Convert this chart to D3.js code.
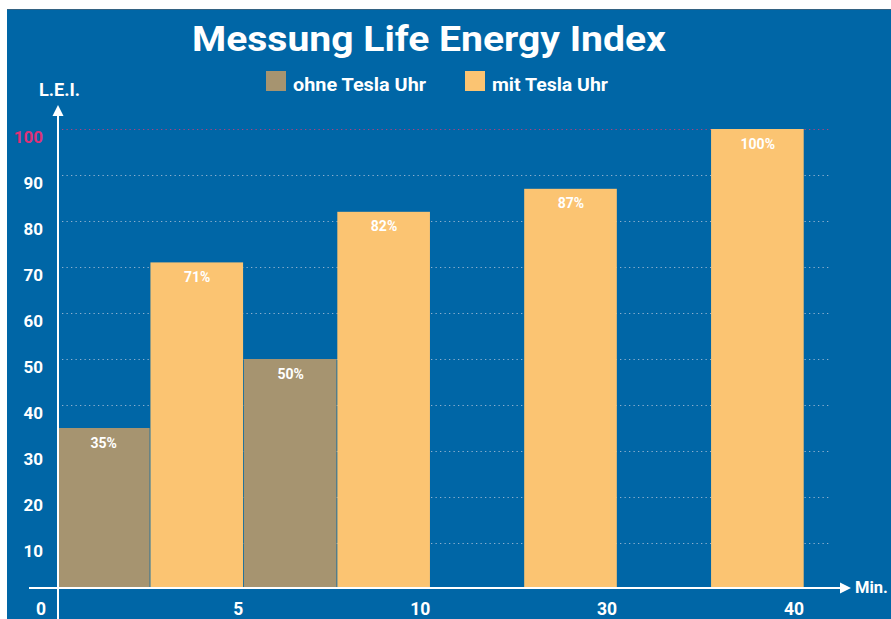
<!DOCTYPE html>
<html>
<head>
<meta charset="utf-8">
<script src="https://cdn.jsdelivr.net/npm/d3@7"></script>
<style>
  html, body { margin: 0; padding: 0; background: #ffffff; }
  svg { display: block; }
  text { font-family: Roboto, "DejaVu Sans", sans-serif; font-weight: 700; }
</style>
</head>
<body>
<svg id="chart" width="891" height="619"></svg>
<script>
// ---- data ----
const groups = ["5", "10", "30", "40"];
const seriesNames = ["ohne Tesla Uhr", "mit Tesla Uhr"];
const ohneValues = [35, 50, null, null];
const mitValues = [71, 82, 87, 100];
const yTicks = [10, 20, 30, 40, 50, 60, 70, 80, 90, 100];
const titleText = "Messung Life Energy Index";
const yAxisTitle = "L.E.I.";
const xAxisTitle = "Min.";
const originLabel = "0";

const colors = { bg: "#0066a6", ohne: "#a69470", mit: "#fbc472", pink: "#dd3278", grid: "#8db0cf" };

const svg = d3.select("#chart");

// background panel
svg.append("rect").attr("x", 7).attr("y", 9).attr("width", 884).attr("height", 610).attr("fill", colors.bg);
svg.append("line").attr("x1", 7).attr("x2", 891).attr("y1", 9.5).attr("y2", 9.5).attr("stroke", "#55606a").attr("stroke-width", 0.6);

// scales
const y = d3.scaleLinear().domain([0, 100]).range([589, 129]);
const x0 = d3.scaleBand().domain(groups).range([57, 804.5]).padding(0);
const x1 = d3.scaleBand().domain(["ohne", "mit"]).range([0, x0.bandwidth()]).padding(0);

// gridlines
svg.append("g").selectAll("line").data(yTicks).join("line")
  .attr("x1", 62).attr("x2", 829)
  .attr("y1", d => Math.round(y(d)) + 0.5).attr("y2", d => Math.round(y(d)) + 0.5)
  .attr("stroke", d => d === 100 ? "#b0427f" : colors.grid)
  .attr("stroke-width", 1.2)
  .attr("stroke-dasharray", "1.3,3.2");

// y tick labels
svg.append("g").selectAll("text").data(yTicks).join("text")
  .attr("x", 43).attr("y", d => y(d) + 13.5)
  .attr("text-anchor", "end")
  .attr("font-size", 17)
  .attr("fill", d => d === 100 ? colors.pink : "#ffffff")
  .text(d => d);

// bars
const rows = [];
groups.forEach((g, i) => {
  if (ohneValues[i] != null) rows.push({ g, s: "ohne", v: ohneValues[i] });
  if (mitValues[i] != null) rows.push({ g, s: "mit", v: mitValues[i] });
});

svg.append("g").selectAll("rect").data(rows).join("rect")
  .attr("x", d => x0(d.g) + x1(d.s))
  .attr("y", d => y(d.v))
  .attr("width", x1.bandwidth() - 0.8)
  .attr("height", d => y(0) - y(d.v))
  .attr("fill", d => colors[d.s]);

svg.append("g").selectAll("text").data(rows).join("text")
  .attr("x", d => x0(d.g) + x1(d.s) + x1.bandwidth() / 2)
  .attr("y", d => y(d.v) + 19.5)
  .attr("text-anchor", "middle")
  .attr("font-size", 14)
  .attr("fill", "#ffffff")
  .text(d => d.v + "%");

// axes
svg.append("line").attr("x1", 58).attr("x2", 58).attr("y1", 112).attr("y2", 619)
  .attr("stroke", "#ffffff").attr("stroke-width", 2);
svg.append("path").attr("d", "M58,105 L52.5,116 L63.5,116 Z").attr("fill", "#ffffff");

svg.append("line").attr("x1", 29).attr("x2", 842).attr("y1", 588).attr("y2", 588)
  .attr("stroke", "#ffffff").attr("stroke-width", 2);
svg.append("path").attr("d", "M851,588 L840,582.5 L840,593.5 Z").attr("fill", "#ffffff");

// x tick labels
svg.append("g").selectAll("text").data(groups).join("text")
  .attr("x", d => x0(d) + x0.bandwidth() - 0.5)
  .attr("y", 615)
  .attr("text-anchor", "end")
  .attr("font-size", 17.5)
  .attr("fill", "#ffffff")
  .text(d => d);
svg.append("text").attr("x", 46).attr("y", 615).attr("text-anchor", "end")
  .attr("font-size", 17.5).attr("fill", "#ffffff").text(originLabel);

// axis titles
svg.append("text").attr("x", 39).attr("y", 96).attr("font-size", 17.5).attr("fill", "#ffffff")
  .attr("textLength", 41).attr("lengthAdjust", "spacingAndGlyphs").text(yAxisTitle);
svg.append("text").attr("x", 855).attr("y", 593).attr("font-size", 16.5).attr("fill", "#ffffff").text(xAxisTitle);

// title
svg.append("text").attr("x", 429).attr("y", 51).attr("text-anchor", "middle")
  .attr("font-size", 35).attr("fill", "#ffffff")
  .attr("textLength", 474).attr("lengthAdjust", "spacingAndGlyphs").text(titleText);

// legend
const legendX = [266, 465];
const legendTextW = [133, 116];
const legendKeys = ["ohne", "mit"];
const lg = svg.append("g").selectAll("g").data(seriesNames).join("g");
lg.append("rect").attr("x", (d, i) => legendX[i]).attr("y", 71).attr("width", 20).attr("height", 20)
  .attr("fill", (d, i) => colors[legendKeys[i]]);
lg.append("text").attr("x", (d, i) => legendX[i] + 27).attr("y", 90.5)
  .attr("font-size", 17.5).attr("fill", "#ffffff")
  .attr("textLength", (d, i) => legendTextW[i]).attr("lengthAdjust", "spacingAndGlyphs")
  .text(d => d);
</script>
</body>
</html>
